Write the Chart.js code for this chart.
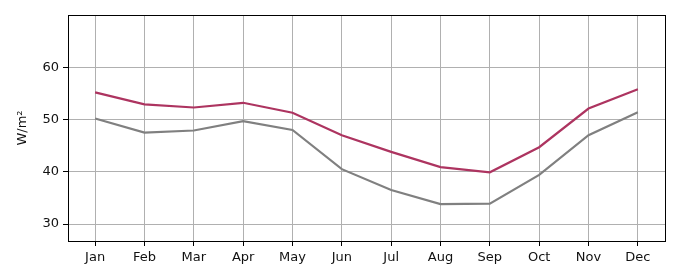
<!DOCTYPE html>
<html>
<head>
<meta charset="utf-8">
<script src="https://cdn.jsdelivr.net/npm/chart.js@4"></script>
<style>
  html, body { margin: 0; padding: 0; background: #fff; }
  #wrap { width: 680px; height: 280px; }
</style>
</head>
<body>
<div id="wrap"><canvas id="chart" width="680" height="280"></canvas></div>
<script>
// chart data
const months = ['Jan', 'Feb', 'Mar', 'Apr', 'May', 'Jun', 'Jul', 'Aug', 'Sep', 'Oct', 'Nov', 'Dec'];
const upperSeries = [55.2, 52.9, 52.3, 53.2, 51.3, 47.0, 43.8, 40.9, 39.9, 44.7, 52.1, 55.8];
const lowerSeries = [50.2, 47.5, 47.9, 49.7, 48.0, 40.5, 36.5, 33.8, 33.9, 39.4, 47.0, 51.4];
const yTicks = [30, 40, 50, 60];

const font = { family: 'DejaVu Sans', size: 13 };

// frame around the plot area (matplotlib style box)
const frame = {
    id: 'frame',
    afterDraw(chart) {
        const a = chart.chartArea, ctx = chart.ctx;
        ctx.save();
        ctx.strokeStyle = '#000';
        ctx.lineWidth = 1;
        ctx.strokeRect(Math.round(a.left) + 0.5, Math.round(a.top) + 0.5,
            Math.round(a.right - a.left), Math.round(a.bottom - a.top));
        ctx.restore();
    }
};

const toPoints = arr => arr.map((v, i) => ({ x: i, y: v }));

new Chart(document.getElementById('chart'), {
    type: 'line',
    data: {
        datasets: [
            {
                data: toPoints(lowerSeries),
                borderColor: '#808080',
                borderWidth: 2.2,
                pointRadius: 0,
                tension: 0
            },
            {
                data: toPoints(upperSeries),
                borderColor: '#ad3460',
                borderWidth: 2.2,
                pointRadius: 0,
                tension: 0
            }
        ]
    },
    plugins: [frame],
    options: {
        responsive: false,
        animation: false,
        layout: { padding: { top: 15, right: 15, left: 0, bottom: 0 } },
        plugins: { legend: { display: false }, tooltip: { enabled: false } },
        scales: {
            x: {
                type: 'linear',
                min: -0.55,
                max: 11.55,
                afterBuildTicks: s => { s.ticks = months.map((m, i) => ({ value: i })); },
                afterFit: s => { s.height = 39; },
                ticks: {
                    font: font,
                    color: '#111',
                    padding: 4,
                    maxRotation: 0,
                    autoSkip: false,
                    callback: v => months[v]
                },
                grid: { color: '#b0b0b0', lineWidth: 1, tickLength: 5, tickColor: '#000' },
                border: { color: '#000', width: 1 }
            },
            y: {
                min: 26.75,
                max: 70,
                afterBuildTicks: s => { s.ticks = yTicks.map(v => ({ value: v })); },
                afterFit: s => { s.width = 68; },
                ticks: { font: font, color: '#111', padding: 4 },
                grid: { color: '#b0b0b0', lineWidth: 1, tickLength: 5, tickColor: '#000' },
                border: { color: '#000', width: 1 },
                title: {
                    display: true,
                    text: 'W/m²',
                    font: font,
                    color: '#111',
                    padding: { top: 15, bottom: 0 }
                }
            }
        }
    }
});
</script>
</body>
</html>
